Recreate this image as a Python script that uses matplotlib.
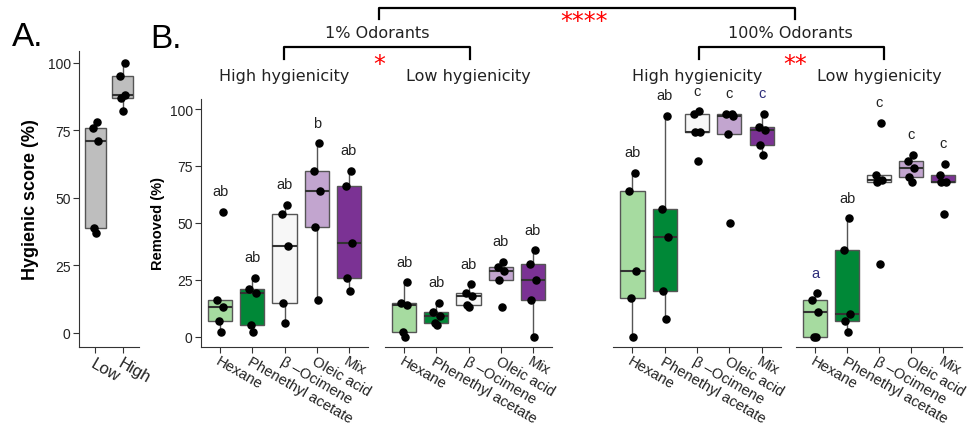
import numpy as np
import matplotlib
matplotlib.use("Agg")
import matplotlib.pyplot as plt
from matplotlib.lines import Line2D

plt.rcParams['font.family'] = ['Liberation Sans', 'DejaVu Sans']

W, H = 971, 427

# panel A: hygienic score of the two colony types
hyg_groups = ["Low", "High"]
hyg_low = [78, 76, 71, 39, 37]
hyg_high = [100, 95, 88, 87, 82]

# panel B: brood removed (%) per odorant
odorants = ["Hexane", "Phenethyl acetate", "β –Ocimene", "Oleic acid", "Mix"]
odor_colors = ["#a6dba0", "#008837", "#f7f7f7", "#c2a5cf", "#7b3294"]

pct1_high = [[55, 16, 13, 7, 2], [26, 21, 19, 5, 2], [58, 54, 40, 15, 6],
             [85, 73, 64, 48, 16], [73, 66, 41, 26, 20]]
pct1_high_letters = ["ab", "ab", "ab", "b", "ab"]

pct1_low = [[24, 15, 14, 2, 0], [15, 11, 9, 6, 5], [23, 19, 18, 14, 13],
            [33, 30.5, 29, 25, 13], [38, 32, 25, 16, 0]]
pct1_low_letters = ["ab", "ab", "ab", "ab", "ab"]

pct100_high = [[72, 64, 29, 17, 0], [97, 56, 44, 20, 8], [99, 98, 90, 90, 77],
               [98, 98, 97, 89, 50], [98, 92, 91, 84, 80]]
pct100_high_letters = ["ab", "ab", "c", "c", "c"]

pct100_low = [[19, 16, 11, 0, 0], [52, 38, 10, 7, 2], [94, 71, 69, 68, 32],
              [80, 77, 74, 70, 68], [76, 71, 68, 68, 54]]
pct100_low_letters = ["a", "ab", "c", "c", "c"]

JIT = [0.07, -0.09, 0.1, -0.05, 0.03]
EDGE = "#555555"
NAVY = "#2e2e7a"

fig = plt.figure(figsize=(W / 100, H / 100), dpi=100)


def add_ax(x0, x1, y0, y1):
    # pixel box -> figure fraction
    return fig.add_axes([x0 / W, 1 - y1 / H, (x1 - x0) / W, (y1 - y0) / H])


def ftext(x, y, s, **kw):
    fig.text(x / W, 1 - y / H, s, **kw)


def fline(xs, ys):
    fig.add_artist(Line2D([x / W for x in xs], [1 - y / H for y in ys],
                          transform=fig.transFigure, color="black", lw=1.6))


def boxes(ax, groups, colors):
    pos = np.arange(1, len(groups) + 1)
    bp = ax.boxplot(groups, positions=pos, widths=0.75, patch_artist=True,
                    showfliers=False, whis=1.5,
                    medianprops=dict(color="#333333", lw=1.5),
                    boxprops=dict(edgecolor=EDGE, lw=1),
                    whiskerprops=dict(color=EDGE, lw=1),
                    capprops=dict(lw=0))
    for patch, c in zip(bp["boxes"], colors):
        patch.set_facecolor(c)
    for i, vals in enumerate(groups):
        xs = pos[i] + np.array(JIT[:len(vals)])
        ax.scatter(xs, vals, s=26, color="black", zorder=3)


def style(ax, left=True):
    for s in ["top", "right"]:
        ax.spines[s].set_visible(False)
    ax.spines["bottom"].set_color("#333333")
    ax.spines["left"].set_color("#333333")
    ax.tick_params(length=4, color="#333333", width=0.8, labelsize=10,
                   labelcolor="#222222", pad=2)
    if not left:
        ax.spines["left"].set_visible(False)
        ax.tick_params(axis="y", left=False, labelleft=False)


# ---- panel A
axA = add_ax(79, 139, 52, 348)
boxes(axA, [hyg_low, hyg_high], ["#bebebe", "#bebebe"])
axA.set_xlim(0.4, 2.6)
axA.set_ylim(-5.2, 104.4)
axA.set_yticks([0, 25, 50, 75, 100])
style(axA)
axA.set_xticks([1, 2])
axA.set_xticklabels(hyg_groups, rotation=-30, ha="left", va="top",
                    rotation_mode="anchor", fontsize=12)
axA.set_ylabel("Hygienic score (%)", fontsize=13, fontweight="bold", labelpad=6)

# ---- panel B
panels = [(201, 368, pct1_high, pct1_high_letters),
          (385, 552, pct1_low, pct1_low_letters),
          (613, 781, pct100_high, pct100_high_letters),
          (796, 962, pct100_low, pct100_low_letters)]
navy_marks = {(2, 4), (3, 0)}

for k, (x0, x1, data, letters) in enumerate(panels):
    ax = add_ax(x0, x1, 99.8, 348)
    boxes(ax, data, odor_colors)
    ax.set_xlim(0.4, 5.6)
    ax.set_ylim(-4.5, 104.5)
    ax.set_yticks([0, 25, 50, 75, 100])
    style(ax, left=(k == 0))
    ax.set_xticks(range(1, 6))
    ax.set_xticklabels(odorants, rotation=-30, ha="left", va="top",
                       rotation_mode="anchor", fontsize=10.6)
    ax.tick_params(axis="x", pad=1)
    for i, (vals, lab) in enumerate(zip(data, letters)):
        col = NAVY if (k, i) in navy_marks else "#222222"
        ax.text(i + 1, max(vals) + 9, lab, ha="center", va="center",
                fontsize=10.5, color=col, clip_on=False)
    if k == 0:
        ax.set_ylabel("Removed (%)", fontsize=10.5, fontweight="bold", labelpad=3)
    ftext((x0 + x1) / 2, 77, "High hygienicity" if k % 2 == 0 else "Low hygienicity",
          ha="center", va="center", fontsize=11.5, family="DejaVu Sans",
          color="#222222")

# panel letters
ftext(12, 46, "A.", fontsize=24, va="baseline")
ftext(150, 48, "B.", fontsize=24, va="baseline")

# group brackets and significance stars
fline([379, 379, 795, 795], [20, 9, 9, 20])
ftext(584, 22, "****", ha="center", va="center", fontsize=17, color="red",
      family="DejaVu Sans")
ftext(377, 34, "1% Odorants", ha="center", va="center", fontsize=11.5,
      family="DejaVu Sans", color="#222222")
ftext(790, 34, "100% Odorants", ha="center", va="center", fontsize=11.5,
      family="DejaVu Sans", color="#222222")
fline([284, 284, 470, 470], [60, 48, 48, 60])
fline([699, 699, 884, 884], [60, 48, 48, 60])
ftext(379, 65, "*", ha="center", va="center", fontsize=17, color="red",
      family="DejaVu Sans")
ftext(795, 65, "**", ha="center", va="center", fontsize=17, color="red",
      family="DejaVu Sans")

fig.savefig("out.png", dpi=100)
